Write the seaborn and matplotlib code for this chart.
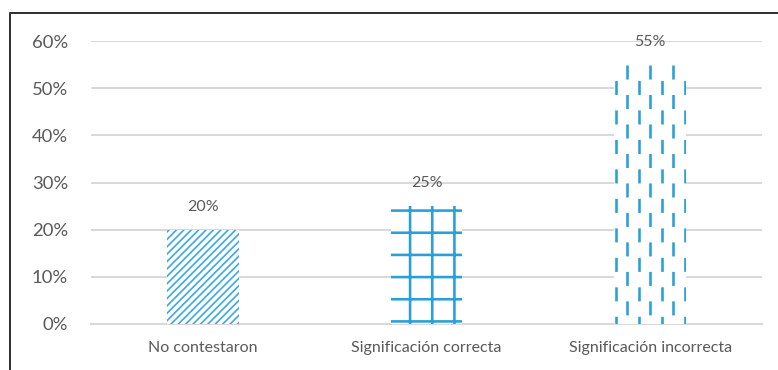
import matplotlib
matplotlib.use("Agg")
import matplotlib.pyplot as plt
import matplotlib.lines as mlines
import seaborn as sns
import pandas as pd

categories = ["No contestaron", "Significación correcta", "Significación incorrecta"]
values = [0.20, 0.25, 0.55]
value_labels = ["20%", "25%", "55%"]
yticks = [0.0, 0.1, 0.2, 0.3, 0.4, 0.5, 0.6]
ytick_labels = ["0%", "10%", "20%", "30%", "40%", "50%", "60%"]

DPI = 133.333
W, H = 778, 370
BLUE = "#2A9FD8"
TXT = "#595959"
GRID = "#D9D9D9"

sns.set_style("white")
plt.rcParams["font.family"] = ["Lato", "DejaVu Sans"]
plt.rcParams["hatch.linewidth"] = 1.4

fig = plt.figure(figsize=(W / DPI, H / DPI), dpi=DPI)
ax = fig.add_axes([91 / W, 46 / H, (762 - 91) / W, (324 - 41) / H])

df = pd.DataFrame({"cat": categories, "val": values})
sns.barplot(data=df, x="cat", y="val", ax=ax, color="white", width=0.32,
            saturation=1, zorder=3)

patches = list(ax.patches)
# bar 1: diagonal stripes
patches[0].set_facecolor("white")
patches[0].set_edgecolor("#3AAAE0")
patches[0].set_linewidth(0)
patches[0].set_hatch("//////")
if hasattr(patches[0], "set_hatch_linewidth"):
    patches[0].set_hatch_linewidth(0.9)
# bar 2: grid
patches[1].set_facecolor("white")
patches[1].set_edgecolor(BLUE)
patches[1].set_linewidth(0)
patches[1].set_hatch("+")
if hasattr(patches[1], "set_hatch_linewidth"):
    patches[1].set_hatch_linewidth(1.4)
# bar 3: staggered dashed vertical lines
p3 = patches[2]
p3.set_facecolor("white")
p3.set_edgecolor("none")
p3.set_linewidth(0)
px2pt = 72 / DPI
on, off = 10 * px2pt, 11 * px2pt
x0, w3, h3 = p3.get_x(), p3.get_width(), p3.get_height()
inset = w3 * 0.02
for i in range(7):
    xx = x0 + inset + i * (w3 - 2 * inset) / 6
    offset = 0 if i % 2 == 1 else on
    ln = mlines.Line2D([xx, xx], [h3, 0], color=BLUE, lw=2.6 * px2pt,
                       linestyle=(offset, (on, off)), solid_capstyle="butt",
                       dash_capstyle="butt", zorder=4)
    ax.add_line(ln)
    ln.set_clip_path(p3)

ax.set_ylim(0, 0.6)
ax.set_yticks(yticks)
ax.set_yticklabels(ytick_labels)
ax.set_xlabel("")
ax.set_ylabel("")
ax.yaxis.grid(True, color=GRID, lw=1.1)
ax.set_axisbelow(True)
for s in ["left", "right", "top"]:
    ax.spines[s].set_visible(False)
ax.spines["bottom"].set_color(GRID)
ax.spines["bottom"].set_linewidth(1.1)
ax.tick_params(axis="y", length=0, pad=23 * px2pt, labelsize=18.5 * px2pt, labelcolor=TXT)
ax.tick_params(axis="x", length=0, pad=17 * px2pt, labelsize=16 * px2pt, labelcolor=TXT)

for p, lab in zip(patches, value_labels):
    ax.annotate(lab, (p.get_x() + p.get_width() / 2, p.get_height()),
                xytext=(0, 23 * px2pt), textcoords="offset points",
                ha="center", va="center", fontsize=16 * px2pt, color=TXT)

# outer frame (partially visible)
fx = 9.5 / W
fy = 1 - 12.5 / H
fig.add_artist(mlines.Line2D([fx, fx, 1.01], [-0.01, fy, fy],
                             transform=fig.transFigure, color="#333333",
                             lw=2 * px2pt))

fig.savefig("out.png", dpi=DPI)
